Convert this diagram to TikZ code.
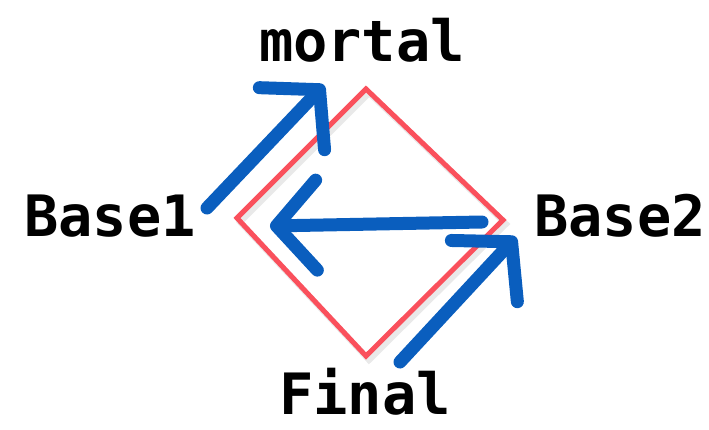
\documentclass[tikz,border=0pt]{standalone}
\usepackage{fontspec}
\setmonofont{DejaVu Sans Mono}
\usepackage{xcolor}
\usetikzlibrary{arrows.meta}
\definecolor{penblue}{HTML}{0A5EBE}
\definecolor{penred}{HTML}{FA505C}

\begin{document}
\begin{tikzpicture}[x=1pt, y=-1pt,
  lbl/.style={anchor=base, font=\ttfamily\bfseries\fontsize{57}{60}\selectfont, inner sep=0pt},
  edge/.style={draw=penred, line width=5pt, line join=miter},
  shade/.style={draw=black!25, line width=6pt, opacity=0.35},
  arr/.style={draw=penblue, line width=13pt, line cap=round, line join=round,
    -{Straight Barb[length=40pt, width=90pt, line cap=round, line join=round]}}]
  \useasboundingbox (0,0) rectangle (709,429);
  % labels
  \node[lbl] (mortal) at (362,61) {mortal};
  \node[lbl] (base1) at (110,236) {Base1};
  \node[lbl] (base2) at (620,236) {Base2};
  \node[lbl] (final) at (365,414) {Final};
  % diamond
  \coordinate (top) at (366,89);
  \coordinate (rgt) at (503,220);
  \coordinate (bot) at (366,356);
  \coordinate (lft) at (237,218);
  \draw[shade] ([shift={(3,4)}]top) -- ([shift={(3,4)}]rgt) -- ([shift={(3,4)}]bot) -- ([shift={(3,4)}]lft) -- cycle;
  \draw[edge] (top) -- (rgt) -- (bot) -- (lft) -- cycle;
  % arrows
  \coordinate (a1s) at (207,208); \coordinate (a1e) at (324,85);
  \coordinate (a2s) at (482,222); \coordinate (a2e) at (270,226);
  \coordinate (a3s) at (400,362); \coordinate (a3e) at (516,237);
  \draw[arr] (a1s) -- (a1e);
  \draw[arr] (a2s) -- (a2e);
  \draw[arr] (a3s) -- (a3e);
\end{tikzpicture}
\end{document}
